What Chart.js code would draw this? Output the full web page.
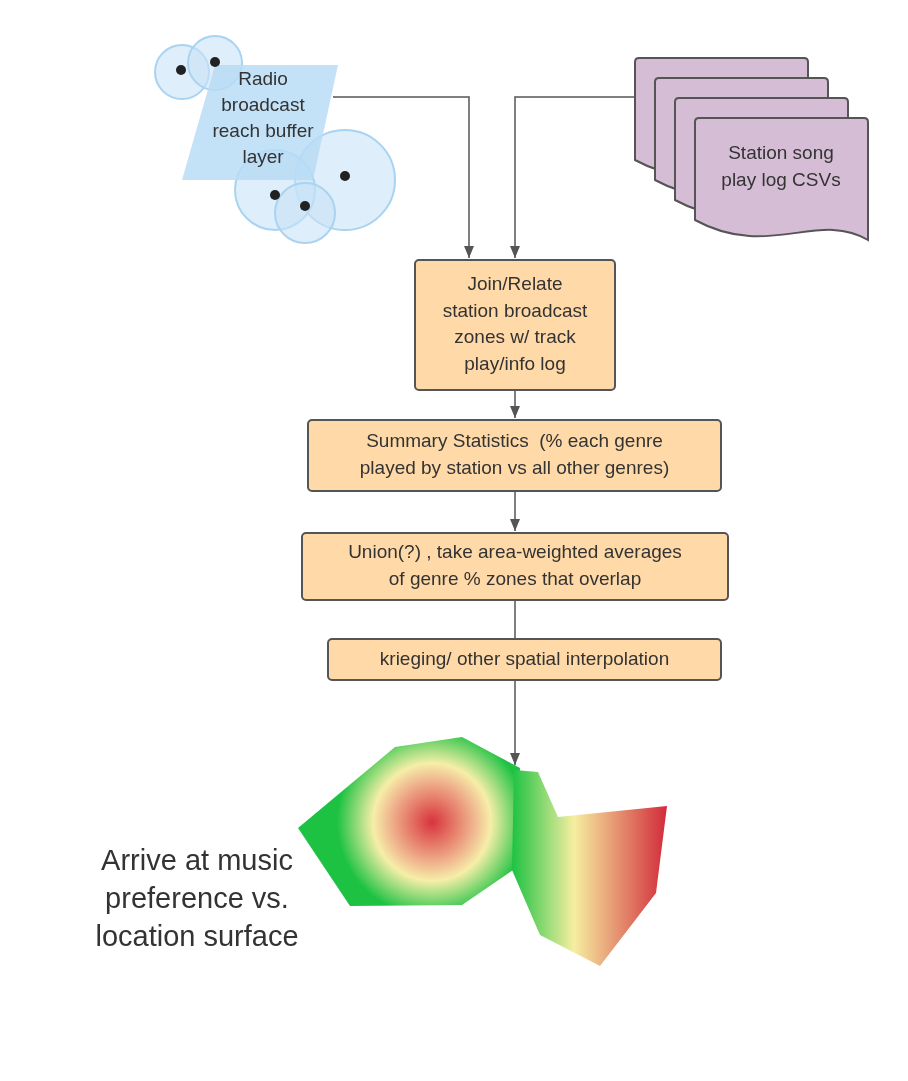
<!DOCTYPE html>
<html><head><meta charset="utf-8">
<script src="https://cdn.jsdelivr.net/npm/chart.js@4"></script>
<style>html,body{margin:0;padding:0;background:#fff}#wrap{width:908px;height:1081px}</style>
</head><body><div id="wrap"><canvas id="c"></canvas></div>
<script>
// process boxes: [left, top, right, bottom]
const boxNames = ['join', 'stats', 'union', 'krige'];
const boxRects = [[415,260,615,390],[308,420,721,491],[302,533,728,600],[328,639,721,680]];
const boxTexts = [
  ['Join/Relate','station broadcast','zones w/ track','play/info log'],
  ['Summary Statistics  (% each genre','played by station vs all other genres)'],
  ['Union(?) , take area-weighted averages','of genre % zones that overlap'],
  ['krieging/ other spatial interpolation']
];
// connectors as polylines, last segment gets an arrow if flagged
const links = [
  {pts:[[333,97],[469,97],[469,258]], arrow:true},
  {pts:[[635,97],[515,97],[515,258]], arrow:true},
  {pts:[[515,390],[515,418]], arrow:true},
  {pts:[[515,491],[515,531]], arrow:true},
  {pts:[[515,600],[515,639]], arrow:false},
  {pts:[[515,680],[515,765]], arrow:true}
];
// radio buffer circles [x, y, r] and station dots
const buffers = [[182,72,27],[215,63,27],[345,180,50],[275,190,40],[305,213,30]];
const stations = [[181,70],[215,62],[345,176],[275,195],[305,206]];
const radioLabel = ['Radio','broadcast','reach buffer','layer'];
const csvLabel = ['Station song','play log CSVs'];
const docOffsets = [0,20,40,60];
const leftSurface = [[298,828],[395,747],[462,737],[520,768],[516,868],[462,905],[350,906]];
const rightSurface = [[514,770],[538,772],[558,817],[667,806],[656,893],[600,966],[540,935],[512,870]];
const outcome = ['Arrive at music','preference vs.','location surface'];

const flow = {
  id:'flow',
  afterDatasetsDraw(chart){
    const ctx = chart.ctx, sx = chart.scales.x, sy = chart.scales.y;
    const X = v => sx.getPixelForValue(v), Y = v => sy.getPixelForValue(v);
    const poly = (pts) => { ctx.beginPath(); pts.forEach((p,i)=> i?ctx.lineTo(X(p[0]),Y(p[1])):ctx.moveTo(X(p[0]),Y(p[1]))); ctx.closePath(); };
    const txt = (lines, cx, y0, dy, font, color) => {
      ctx.font = font; ctx.fillStyle = color; ctx.textAlign='center'; ctx.textBaseline='middle';
      lines.forEach((l,i)=>ctx.fillText(l, X(cx), Y(y0+i*dy)));
    };
    ctx.save();
    // radio layer
    buffers.forEach(b=>{ ctx.beginPath(); ctx.arc(X(b[0]),Y(b[1]),b[2],0,Math.PI*2);
      ctx.fillStyle='rgba(200,226,246,0.6)'; ctx.fill(); ctx.strokeStyle='#a9d3f0'; ctx.lineWidth=2; ctx.stroke(); });
    poly([[215,65],[338,65],[313,180],[182,180]]); ctx.fillStyle='rgba(184,220,246,0.85)'; ctx.fill();
    stations.forEach(s=>{ ctx.beginPath(); ctx.arc(X(s[0]),Y(s[1]),5,0,Math.PI*2); ctx.fillStyle='#222'; ctx.fill(); });
    txt(radioLabel, 263, 80, 26, '19px "Liberation Sans", Arial', '#333');
    // document stack
    docOffsets.forEach(o=>{
      const l=635+o, t=58+o, r=808+o, b=160+o;
      ctx.beginPath(); ctx.moveTo(X(l+4),Y(t)); ctx.lineTo(X(r-4),Y(t)); ctx.quadraticCurveTo(X(r),Y(t),X(r),Y(t+4));
      ctx.lineTo(X(r),Y(b+20));
      ctx.bezierCurveTo(X(r-50),Y(b-10),X(r-100),Y(b+40),X(l),Y(b));
      ctx.lineTo(X(l),Y(t+4)); ctx.quadraticCurveTo(X(l),Y(t),X(l+4),Y(t)); ctx.closePath();
      ctx.fillStyle='#d6bdd6'; ctx.fill(); ctx.strokeStyle='#555'; ctx.lineWidth=2; ctx.stroke();
    });
    txt(csvLabel, 781, 154, 27, '19px "Liberation Sans", Arial', '#333');
    // connectors
    ctx.strokeStyle='#555'; ctx.fillStyle='#555'; ctx.lineWidth=1.5;
    links.forEach(k=>{
      ctx.beginPath(); k.pts.forEach((p,i)=> i?ctx.lineTo(X(p[0]),Y(p[1])):ctx.moveTo(X(p[0]),Y(p[1]))); ctx.stroke();
      if(k.arrow){ const e=k.pts[k.pts.length-1];
        ctx.beginPath(); ctx.moveTo(X(e[0]),Y(e[1])); ctx.lineTo(X(e[0])-5,Y(e[1])-12); ctx.lineTo(X(e[0])+5,Y(e[1])-12); ctx.closePath(); ctx.fill(); }
    });
    // boxes
    boxRects.forEach((b,i)=>{
      ctx.beginPath(); ctx.roundRect(X(b[0]),Y(b[1]),X(b[2])-X(b[0]),Y(b[3])-Y(b[1]),4);
      ctx.fillStyle='#ffdaa8'; ctx.fill(); ctx.strokeStyle='#555'; ctx.lineWidth=2; ctx.stroke();
      const lines=boxTexts[i], cy=(b[1]+b[3])/2, dy=26.5;
      txt(lines,(b[0]+b[2])/2, cy-(lines.length-1)*dy/2, dy, '19px "Liberation Sans", Arial', '#333');
    });
    // surface
    const rg = ctx.createRadialGradient(X(432),Y(822),0,X(432),Y(822),95);
    rg.addColorStop(0,'#d9333c'); rg.addColorStop(0.45,'#f0b890'); rg.addColorStop(0.62,'#f6eea8'); rg.addColorStop(1,'#1dc243');
    poly(leftSurface); ctx.fillStyle=rg; ctx.fill();
    const lg = ctx.createLinearGradient(X(512),0,X(667),0);
    lg.addColorStop(0,'#1dc243'); lg.addColorStop(0.4,'#f6eea0'); lg.addColorStop(1,'#d22a3a');
    poly(rightSurface); ctx.fillStyle=lg; ctx.fill();
    txt(outcome, 197, 862, 38, '29px "Liberation Sans", Arial', '#333');
    ctx.restore();
  }
};

new Chart(document.getElementById('c'), {
  type:'scatter',
  data:{datasets:[{data:[], pointRadius:0}]},
  options:{
    responsive:true, maintainAspectRatio:false, animation:false,
    layout:{padding:0},
    plugins:{legend:{display:false}, tooltip:{enabled:false}},
    scales:{
      x:{type:'linear', min:0, max:908, display:false},
      y:{type:'linear', min:0, max:1081, reverse:true, display:false}
    }
  },
  plugins:[flow]
});
</script></body></html>
